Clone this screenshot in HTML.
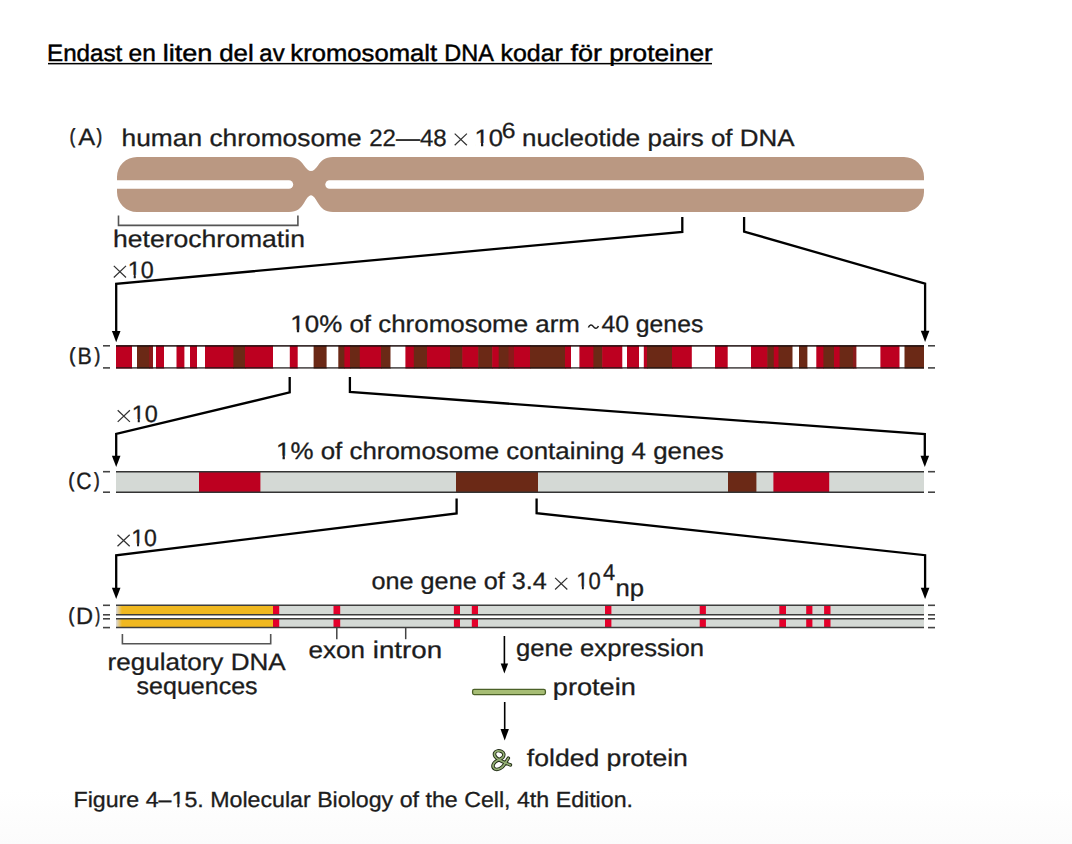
<!DOCTYPE html>
<html><head><meta charset="utf-8"><title>Kromosomalt DNA</title>
<style>
html,body{margin:0;padding:0;background:#fff;}
body{width:1072px;height:844px;overflow:hidden;position:relative;}
svg{position:absolute;left:0;top:0;display:block;}
text{font-family:"Liberation Sans",sans-serif;fill:#1c1c1c;stroke:#1c1c1c;stroke-width:0.3px;text-rendering:geometricPrecision;}
</style></head>
<body>
<svg width="1072" height="844" viewBox="0 0 1072 844">
<defs><linearGradient id="bg" x1="0" y1="0" x2="0" y2="1"><stop offset="0" stop-color="#fff"/><stop offset="1" stop-color="#fbfbfb"/></linearGradient></defs>
<rect x="0" y="790" width="1072" height="54" fill="url(#bg)"/>
<rect x="48" y="62.9" width="664" height="1.5" fill="#000"/>
<text x="69.72" y="143.30" font-size="20.2" textLength="5.28" lengthAdjust="spacingAndGlyphs" style="stroke-width:0.75px">(</text>
<text x="78.15" y="145.30" font-size="23.8" textLength="16.90" lengthAdjust="spacingAndGlyphs">A</text>
<text x="96.71" y="143.30" font-size="20.2" textLength="5.28" lengthAdjust="spacingAndGlyphs" style="stroke-width:0.75px">)</text>
<text x="121.57" y="145.80" font-size="23.8" textLength="240.10" lengthAdjust="spacingAndGlyphs">human chromosome</text>
<text x="369.19" y="145.80" font-size="23.8" textLength="77.55" lengthAdjust="spacingAndGlyphs">22—48</text>
<path d="M454.7,133.6 L466.9,145.2 M466.9,133.6 L454.7,145.2" stroke="#333" stroke-width="1.25" fill="none"/>
<text x="474.55" y="145.80" font-size="23.8" textLength="28.45" lengthAdjust="spacingAndGlyphs">10</text>
<text x="501.75" y="137.80" font-size="22" textLength="13.74" lengthAdjust="spacingAndGlyphs">6</text>
<text x="521.98" y="145.80" font-size="23.8" textLength="272.57" lengthAdjust="spacingAndGlyphs">nucleotide pairs of DNA</text>
<text x="112.96" y="247.30" font-size="23.8" textLength="191.97" lengthAdjust="spacingAndGlyphs">heterochromatin</text>
<path d="M113.8,265.9 L126,277.5 M126,265.9 L113.8,277.5" stroke="#333" stroke-width="1.25" fill="none"/>
<text x="127.82" y="277.60" font-size="23.8" textLength="25.99" lengthAdjust="spacingAndGlyphs">10</text>
<text x="69.30" y="362.10" font-size="20.2" textLength="5.90" lengthAdjust="spacingAndGlyphs" style="stroke-width:0.75px">(</text>
<text x="77.54" y="364.10" font-size="23.8" textLength="14.29" lengthAdjust="spacingAndGlyphs">B</text>
<text x="94.80" y="362.10" font-size="20.2" textLength="5.40" lengthAdjust="spacingAndGlyphs" style="stroke-width:0.75px">)</text>
<text x="290.33" y="332.40" font-size="23.8" textLength="289.58" lengthAdjust="spacingAndGlyphs">10% of chromosome arm</text>
<path d="M588.4,327.6 C589.6,324.2 591.8,324.2 593.4,326.6 C595,329 597.2,329 598.4,325.9" fill="none" stroke="#1c1c1c" stroke-width="1.5"/>
<text x="601.43" y="332.40" font-size="23.8" textLength="101.86" lengthAdjust="spacingAndGlyphs">40 genes</text>
<path d="M117.7,410.3 L129.9,421.9 M129.9,410.3 L117.7,421.9" stroke="#333" stroke-width="1.25" fill="none"/>
<text x="131.81" y="421.90" font-size="23.8" textLength="26.10" lengthAdjust="spacingAndGlyphs">10</text>
<text x="276.03" y="458.50" font-size="23.8" textLength="447.71" lengthAdjust="spacingAndGlyphs">1% of chromosome containing 4 genes</text>
<text x="68.45" y="486.70" font-size="20.2" textLength="5.65" lengthAdjust="spacingAndGlyphs" style="stroke-width:0.75px">(</text>
<text x="76.23" y="488.70" font-size="23.8" textLength="15.28" lengthAdjust="spacingAndGlyphs">C</text>
<text x="94.21" y="486.70" font-size="20.2" textLength="5.28" lengthAdjust="spacingAndGlyphs" style="stroke-width:0.75px">)</text>
<path d="M117.5,534.7 L129.7,546.3 M129.7,534.7 L117.5,546.3" stroke="#333" stroke-width="1.25" fill="none"/>
<text x="131.24" y="546.30" font-size="23.8" textLength="25.66" lengthAdjust="spacingAndGlyphs">10</text>
<text x="371.54" y="589.40" font-size="23.8" textLength="175.20" lengthAdjust="spacingAndGlyphs">one gene of 3.4</text>
<path d="M555.1,577.9 L567.3,589.5 M567.3,577.9 L555.1,589.5" stroke="#333" stroke-width="1.25" fill="none"/>
<text x="576.32" y="589.40" font-size="23.8" textLength="24.54" lengthAdjust="spacingAndGlyphs">10</text>
<text x="603.00" y="579.80" font-size="22.5" textLength="12.14" lengthAdjust="spacingAndGlyphs">4</text>
<text x="615.49" y="595.90" font-size="23.8" textLength="28.59" lengthAdjust="spacingAndGlyphs">np</text>
<text x="68.45" y="621.70" font-size="20.2" textLength="5.65" lengthAdjust="spacingAndGlyphs" style="stroke-width:0.75px">(</text>
<text x="76.06" y="623.70" font-size="23.8" textLength="17.07" lengthAdjust="spacingAndGlyphs">D</text>
<text x="95.52" y="621.70" font-size="20.2" textLength="4.52" lengthAdjust="spacingAndGlyphs" style="stroke-width:0.75px">)</text>
<text x="107.57" y="669.80" font-size="23.8" textLength="178.08" lengthAdjust="spacingAndGlyphs">regulatory DNA</text>
<text x="136.60" y="694.00" font-size="23.8" textLength="121.00" lengthAdjust="spacingAndGlyphs">sequences</text>
<text x="308.59" y="657.80" font-size="23.8" textLength="56.50" lengthAdjust="spacingAndGlyphs">exon</text>
<text x="372.75" y="657.80" font-size="23.8" textLength="69.36" lengthAdjust="spacingAndGlyphs">intron</text>
<text x="515.92" y="656.00" font-size="23.8" textLength="188.24" lengthAdjust="spacingAndGlyphs">gene expression</text>
<text x="552.85" y="694.50" font-size="23.8" textLength="83.01" lengthAdjust="spacingAndGlyphs">protein</text>
<text x="526.82" y="765.70" font-size="23.8" textLength="161.10" lengthAdjust="spacingAndGlyphs">folded protein</text>
<text x="73.50" y="806.60" font-size="21.8" textLength="559.52" lengthAdjust="spacingAndGlyphs">Figure 4–15. Molecular Biology of the Cell, 4th Edition.</text>
<text x="47.02" y="60.70" font-size="23.5" textLength="75.26" lengthAdjust="spacingAndGlyphs" style="fill:#000;stroke:#000;stroke-width:0.45px">Endast</text>
<text x="128.56" y="60.70" font-size="23.5" textLength="27.23" lengthAdjust="spacingAndGlyphs" style="fill:#000;stroke:#000;stroke-width:0.45px">en</text>
<text x="162.78" y="60.70" font-size="23.5" textLength="49.68" lengthAdjust="spacingAndGlyphs" style="fill:#000;stroke:#000;stroke-width:0.45px">liten</text>
<text x="219.21" y="60.70" font-size="23.5" textLength="34.52" lengthAdjust="spacingAndGlyphs" style="fill:#000;stroke:#000;stroke-width:0.45px">del</text>
<text x="259.38" y="60.70" font-size="23.5" textLength="25.30" lengthAdjust="spacingAndGlyphs" style="fill:#000;stroke:#000;stroke-width:0.45px">av</text>
<text x="290.37" y="60.70" font-size="23.5" textLength="146.71" lengthAdjust="spacingAndGlyphs" style="fill:#000;stroke:#000;stroke-width:0.45px">kromosomalt</text>
<text x="444.27" y="60.70" font-size="23.5" textLength="49.57" lengthAdjust="spacingAndGlyphs" style="fill:#000;stroke:#000;stroke-width:0.45px">DNA</text>
<text x="500.52" y="60.70" font-size="23.5" textLength="62.39" lengthAdjust="spacingAndGlyphs" style="fill:#000;stroke:#000;stroke-width:0.45px">kodar</text>
<text x="570.42" y="60.70" font-size="23.5" textLength="31.63" lengthAdjust="spacingAndGlyphs" style="fill:#000;stroke:#000;stroke-width:0.45px">för</text>
<text x="609.21" y="60.70" font-size="23.5" textLength="103.63" lengthAdjust="spacingAndGlyphs" style="fill:#000;stroke:#000;stroke-width:0.45px">proteiner</text>
<rect x="475.20" y="143.00" width="5.79" height="4.70" fill="#fff"/>
<rect x="483.25" y="143.00" width="5.39" height="4.70" fill="#fff"/>
<rect x="128.30" y="274.80" width="5.40" height="4.70" fill="#fff"/>
<rect x="135.77" y="274.80" width="5.02" height="4.70" fill="#fff"/>
<rect x="291.01" y="329.60" width="5.85" height="4.70" fill="#fff"/>
<rect x="299.15" y="329.60" width="5.45" height="4.70" fill="#fff"/>
<rect x="132.30" y="419.10" width="5.42" height="4.70" fill="#fff"/>
<rect x="139.79" y="419.10" width="5.03" height="4.70" fill="#fff"/>
<rect x="276.70" y="455.70" width="5.84" height="4.70" fill="#fff"/>
<rect x="284.84" y="455.70" width="5.44" height="4.70" fill="#fff"/>
<rect x="131.70" y="543.50" width="5.35" height="4.70" fill="#fff"/>
<rect x="139.08" y="543.50" width="4.97" height="4.70" fill="#fff"/>
<rect x="576.70" y="586.60" width="5.17" height="4.70" fill="#fff"/>
<rect x="583.82" y="586.60" width="4.80" height="4.70" fill="#fff"/>
<rect x="171.94" y="803.80" width="5.37" height="4.70" fill="#fff"/>
<rect x="179.37" y="803.80" width="4.99" height="4.70" fill="#fff"/>
<path d="M137,157 L289,157 C297,157 301,161 304,165.5 C306.5,169 308.5,171 311,171 C313.5,171 315.5,169 318,165.5 C321,161 325,157 333,157 L904,157 A20,20 0 0 1 924,177 L924,192 A20,20 0 0 1 904,212 L333,212 C325,212 321,208 318,203 C315.5,199 313.5,195.3 311,195.3 C308.5,195.3 306.5,199 304,203 C301,208 297,212 289,212 L137,212 A20,20 0 0 1 117,192 L117,177 A20,20 0 0 1 137,157 Z" fill="#ba9882"/>
<rect x="100" y="180.2" width="193.2" height="8.5" rx="4.25" fill="#fff"/>
<rect x="325.3" y="180.2" width="620" height="8.5" rx="4.25" fill="#fff"/>
<path d="M118.5,215.5 V225.4 H297.9 V215.5" fill="none" stroke="#555" stroke-width="1.6"/>
<rect x="116" y="345.5" width="16.6" height="23" fill="#bd0020"/>
<rect x="132" y="345.5" width="5.6" height="23" fill="#ffffff"/>
<rect x="137" y="345.5" width="12.6" height="23" fill="#6b2916"/>
<rect x="149" y="345.5" width="4.6" height="23" fill="#8a1a1a"/>
<rect x="153" y="345.5" width="3.6" height="23" fill="#ffffff"/>
<rect x="156" y="345.5" width="8.6" height="23" fill="#bd0020"/>
<rect x="164" y="345.5" width="13.1" height="23" fill="#ffffff"/>
<rect x="176.5" y="345.5" width="8.5" height="23" fill="#bd0020"/>
<rect x="184.4" y="345.5" width="6.2" height="23" fill="#ffffff"/>
<rect x="190" y="345.5" width="7.6" height="23" fill="#bd0020"/>
<rect x="197" y="345.5" width="8.6" height="23" fill="#ffffff"/>
<rect x="205" y="345.5" width="29" height="23" fill="#bd0020"/>
<rect x="233.4" y="345.5" width="12.2" height="23" fill="#6b2916"/>
<rect x="245" y="345.5" width="28.6" height="23" fill="#bd0020"/>
<rect x="273" y="345.5" width="17.4" height="23" fill="#ffffff"/>
<rect x="289.8" y="345.5" width="8.5" height="23" fill="#bd0020"/>
<rect x="297.7" y="345.5" width="16.5" height="23" fill="#ffffff"/>
<rect x="313.6" y="345.5" width="13.6" height="23" fill="#6b2916"/>
<rect x="326.6" y="345.5" width="12.3" height="23" fill="#ffffff"/>
<rect x="338.3" y="345.5" width="6.7" height="23" fill="#6b2916"/>
<rect x="344.4" y="345.5" width="6.2" height="23" fill="#bd0020"/>
<rect x="350" y="345.5" width="10.4" height="23" fill="#6b2916"/>
<rect x="359.8" y="345.5" width="21.8" height="23" fill="#bd0020"/>
<rect x="381" y="345.5" width="10.1" height="23" fill="#6b2916"/>
<rect x="390.5" y="345.5" width="15.5" height="23" fill="#ffffff"/>
<rect x="405.4" y="345.5" width="9" height="23" fill="#bd0020"/>
<rect x="413.8" y="345.5" width="13.8" height="23" fill="#6b2916"/>
<rect x="427" y="345.5" width="23.6" height="23" fill="#bd0020"/>
<rect x="450" y="345.5" width="12.9" height="23" fill="#6b2916"/>
<rect x="462.3" y="345.5" width="16.5" height="23" fill="#bd0020"/>
<rect x="478.2" y="345.5" width="14.6" height="23" fill="#6b2916"/>
<rect x="492.2" y="345.5" width="7.1" height="23" fill="#bd0020"/>
<rect x="498.7" y="345.5" width="10.4" height="23" fill="#6b2916"/>
<rect x="508.5" y="345.5" width="6.1" height="23" fill="#8a1a1a"/>
<rect x="514" y="345.5" width="16.6" height="23" fill="#bd0020"/>
<rect x="530" y="345.5" width="35.6" height="23" fill="#6b2916"/>
<rect x="565" y="345.5" width="6.6" height="23" fill="#bd0020"/>
<rect x="571" y="345.5" width="9" height="23" fill="#ffffff"/>
<rect x="579.4" y="345.5" width="14.6" height="23" fill="#bd0020"/>
<rect x="593.4" y="345.5" width="9.4" height="23" fill="#6b2916"/>
<rect x="602.2" y="345.5" width="20.7" height="23" fill="#bd0020"/>
<rect x="622.3" y="345.5" width="5.3" height="23" fill="#ffffff"/>
<rect x="627" y="345.5" width="12.6" height="23" fill="#bd0020"/>
<rect x="639" y="345.5" width="5.4" height="23" fill="#ffffff"/>
<rect x="643.8" y="345.5" width="3.8" height="23" fill="#bd0020"/>
<rect x="647" y="345.5" width="25.6" height="23" fill="#6b2916"/>
<rect x="672" y="345.5" width="20.4" height="23" fill="#bd0020"/>
<rect x="691.8" y="345.5" width="23.8" height="23" fill="#ffffff"/>
<rect x="715" y="345.5" width="13.3" height="23" fill="#bd0020"/>
<rect x="727.7" y="345.5" width="23.9" height="23" fill="#ffffff"/>
<rect x="751" y="345.5" width="16.9" height="23" fill="#bd0020"/>
<rect x="767.3" y="345.5" width="7.1" height="23" fill="#6b2916"/>
<rect x="773.8" y="345.5" width="5.3" height="23" fill="#bd0020"/>
<rect x="778.5" y="345.5" width="14.6" height="23" fill="#6b2916"/>
<rect x="792.5" y="345.5" width="7.1" height="23" fill="#ffffff"/>
<rect x="799" y="345.5" width="9" height="23" fill="#6b2916"/>
<rect x="807.4" y="345.5" width="9.5" height="23" fill="#ffffff"/>
<rect x="816.3" y="345.5" width="7.7" height="23" fill="#bd0020"/>
<rect x="823.4" y="345.5" width="11.2" height="23" fill="#6b2916"/>
<rect x="834" y="345.5" width="6.2" height="23" fill="#bd0020"/>
<rect x="839.6" y="345.5" width="14" height="23" fill="#6b2916"/>
<rect x="853" y="345.5" width="4" height="23" fill="#8a1a1a"/>
<rect x="856.4" y="345.5" width="24.6" height="23" fill="#ffffff"/>
<rect x="880.4" y="345.5" width="19.7" height="23" fill="#bd0020"/>
<rect x="899.5" y="345.5" width="5.6" height="23" fill="#ffffff"/>
<rect x="904.5" y="345.5" width="19.5" height="23" fill="#6b2916"/>
<line x1="116" y1="345.8" x2="924" y2="345.8" stroke="#1a0c0c" stroke-opacity="0.85" stroke-width="1.7"/>
<line x1="116" y1="367.9" x2="924" y2="367.9" stroke="#1a1414" stroke-opacity="0.7" stroke-width="1.7"/>
<rect x="116" y="471.7" width="808" height="20.5" fill="#d4d9d5"/>
<rect x="199" y="471.7" width="61.4" height="20.5" fill="#bd0020"/>
<rect x="456" y="471.7" width="82" height="20.5" fill="#6b2916"/>
<rect x="728" y="471.7" width="28.4" height="20.5" fill="#6b2916"/>
<rect x="773.4" y="471.7" width="55.8" height="20.5" fill="#bd0020"/>
<line x1="116" y1="471.7" x2="924" y2="471.7" stroke="#333" stroke-width="1.6"/>
<line x1="116" y1="492.2" x2="924" y2="492.2" stroke="#333" stroke-width="1.6"/>
<defs><linearGradient id="yg" x1="0" x2="1"><stop offset="0" stop-color="#d8d9e0"/><stop offset="1" stop-color="#f0b820"/></linearGradient></defs>
<rect x="116" y="605.3" width="808" height="9.5" fill="#d4d9d5"/>
<rect x="122" y="605.3" width="151" height="9.5" fill="#f0b820"/>
<rect x="116" y="605.3" width="6" height="9.5" fill="url(#yg)"/>
<rect x="273" y="605.3" width="6.2" height="9.5" fill="#e4002b"/>
<rect x="333.5" y="605.3" width="6.7" height="9.5" fill="#e4002b"/>
<rect x="453.9" y="605.3" width="6.1" height="9.5" fill="#e4002b"/>
<rect x="471.8" y="605.3" width="6.2" height="9.5" fill="#e4002b"/>
<rect x="605" y="605.3" width="6.4" height="9.5" fill="#e4002b"/>
<rect x="699.7" y="605.3" width="6.2" height="9.5" fill="#e4002b"/>
<rect x="779.3" y="605.3" width="6.7" height="9.5" fill="#e4002b"/>
<rect x="806.2" y="605.3" width="6.2" height="9.5" fill="#e4002b"/>
<rect x="824.1" y="605.3" width="6.4" height="9.5" fill="#e4002b"/>
<line x1="116" y1="605.3" x2="924" y2="605.3" stroke="#3d3d3d" stroke-width="1.5"/>
<line x1="116" y1="614.8" x2="924" y2="614.8" stroke="#3d3d3d" stroke-width="1.5"/>
<rect x="116" y="618.8" width="808" height="8.8" fill="#d4d9d5"/>
<rect x="122" y="618.8" width="151" height="8.8" fill="#f0b820"/>
<rect x="116" y="618.8" width="6" height="8.8" fill="url(#yg)"/>
<rect x="273" y="618.8" width="6.2" height="8.8" fill="#e4002b"/>
<rect x="333.5" y="618.8" width="6.7" height="8.8" fill="#e4002b"/>
<rect x="453.9" y="618.8" width="6.1" height="8.8" fill="#e4002b"/>
<rect x="471.8" y="618.8" width="6.2" height="8.8" fill="#e4002b"/>
<rect x="605" y="618.8" width="6.4" height="8.8" fill="#e4002b"/>
<rect x="699.7" y="618.8" width="6.2" height="8.8" fill="#e4002b"/>
<rect x="779.3" y="618.8" width="6.7" height="8.8" fill="#e4002b"/>
<rect x="806.2" y="618.8" width="6.2" height="8.8" fill="#e4002b"/>
<rect x="824.1" y="618.8" width="6.4" height="8.8" fill="#e4002b"/>
<line x1="116" y1="618.8" x2="924" y2="618.8" stroke="#3d3d3d" stroke-width="1.5"/>
<line x1="116" y1="627.6" x2="924" y2="627.6" stroke="#3d3d3d" stroke-width="1.5"/>
<line x1="103" y1="345.8" x2="110" y2="345.8" stroke="#444" stroke-width="1.6"/>
<line x1="928" y1="345.8" x2="935" y2="345.8" stroke="#444" stroke-width="1.6"/>
<line x1="103" y1="367.9" x2="110" y2="367.9" stroke="#444" stroke-width="1.6"/>
<line x1="928" y1="367.9" x2="935" y2="367.9" stroke="#444" stroke-width="1.6"/>
<line x1="103" y1="471.7" x2="110" y2="471.7" stroke="#444" stroke-width="1.6"/>
<line x1="928" y1="471.7" x2="935" y2="471.7" stroke="#444" stroke-width="1.6"/>
<line x1="103" y1="492.2" x2="110" y2="492.2" stroke="#444" stroke-width="1.6"/>
<line x1="928" y1="492.2" x2="935" y2="492.2" stroke="#444" stroke-width="1.6"/>
<line x1="103" y1="605.3" x2="110" y2="605.3" stroke="#444" stroke-width="1.6"/>
<line x1="928" y1="605.3" x2="935" y2="605.3" stroke="#444" stroke-width="1.6"/>
<line x1="103" y1="614.8" x2="110" y2="614.8" stroke="#444" stroke-width="1.6"/>
<line x1="928" y1="614.8" x2="935" y2="614.8" stroke="#444" stroke-width="1.6"/>
<line x1="103" y1="618.8" x2="110" y2="618.8" stroke="#444" stroke-width="1.6"/>
<line x1="928" y1="618.8" x2="935" y2="618.8" stroke="#444" stroke-width="1.6"/>
<line x1="103" y1="627.6" x2="110" y2="627.6" stroke="#444" stroke-width="1.6"/>
<line x1="928" y1="627.6" x2="935" y2="627.6" stroke="#444" stroke-width="1.6"/>
<line x1="336.8" y1="628" x2="336.8" y2="639.2" stroke="#444" stroke-width="1.5"/>
<line x1="405.7" y1="628" x2="405.7" y2="639.2" stroke="#444" stroke-width="1.5"/>
<path d="M122.4,634 V643.7 H270.7 V634" fill="none" stroke="#555" stroke-width="1.6"/>
<path d="M682.3,217 L682.3,231.9 L116.2,283.8 L116.2,334.2" fill="none" stroke="#000" stroke-width="2.3" stroke-linejoin="miter"/>
<path d="M111.9,331 L120.5,331 L116.2,342.2 Z" fill="#000"/>
<path d="M744.1,217 L744.1,231.6 L925.1,283.6 L925.1,334" fill="none" stroke="#000" stroke-width="2.3" stroke-linejoin="miter"/>
<path d="M920.8,330.8 L929.4,330.8 L925.1,342 Z" fill="#000"/>
<path d="M289.7,377 L289.7,392.4 L116.2,434 L116.2,458.9" fill="none" stroke="#000" stroke-width="2.3" stroke-linejoin="miter"/>
<path d="M111.9,455.7 L120.5,455.7 L116.2,466.9 Z" fill="#000"/>
<path d="M349.9,377 L349.9,392 L924.8,434.1 L924.8,458.9" fill="none" stroke="#000" stroke-width="2.3" stroke-linejoin="miter"/>
<path d="M920.5,455.7 L929.1,455.7 L924.8,466.9 Z" fill="#000"/>
<path d="M456.6,498.5 L456.6,513.5 L116.2,555.3 L116.2,591" fill="none" stroke="#000" stroke-width="2.3" stroke-linejoin="miter"/>
<path d="M111.9,587.8 L120.5,587.8 L116.2,599 Z" fill="#000"/>
<path d="M536.6,498.5 L536.6,513.2 L925.1,555.2 L925.1,591" fill="none" stroke="#000" stroke-width="2.3" stroke-linejoin="miter"/>
<path d="M920.8,587.8 L929.4,587.8 L925.1,599 Z" fill="#000"/>
<line x1="504.4" y1="636" x2="504.4" y2="666" stroke="#000" stroke-width="1.6"/>
<path d="M500.7,663.6 L508.1,663.6 L504.4,673.6 Z" fill="#000"/>
<line x1="504.7" y1="702" x2="504.7" y2="731" stroke="#000" stroke-width="1.6"/>
<path d="M500.5,729.1 L508.9,729.1 L504.7,740.4 Z" fill="#000"/>
<rect x="472.6" y="689.4" width="72.8" height="5.2" rx="1.5" fill="#a6bd74" stroke="#4b6128" stroke-width="1.3"/>
<g transform="translate(501.3,760.6) scale(0.87) translate(-501.5,-760)">
<path d="M512,765 C508,763.5 502,761 498.4,758.8 C495,756.5 492.8,753.5 494,751 C495.2,748.5 499,748.3 501.5,749.3 C504.5,750.5 505.3,753.8 503.2,756.3 C501.5,758.3 497,759.5 494.5,761.5 C491,764.5 491,768.5 494.5,769.8 C498,771 502.5,768.5 505,764.5 L509.6,757.2" fill="none" stroke="#1f2a14" stroke-width="4" stroke-linecap="round" stroke-linejoin="round"/>
<path d="M512,765 C508,763.5 502,761 498.4,758.8 C495,756.5 492.8,753.5 494,751 C495.2,748.5 499,748.3 501.5,749.3 C504.5,750.5 505.3,753.8 503.2,756.3 C501.5,758.3 497,759.5 494.5,761.5 C491,764.5 491,768.5 494.5,769.8 C498,771 502.5,768.5 505,764.5 L509.6,757.2" fill="none" stroke="#92ad72" stroke-width="1.95" stroke-linecap="round" stroke-linejoin="round"/>
</g>
</svg>
</body></html>
